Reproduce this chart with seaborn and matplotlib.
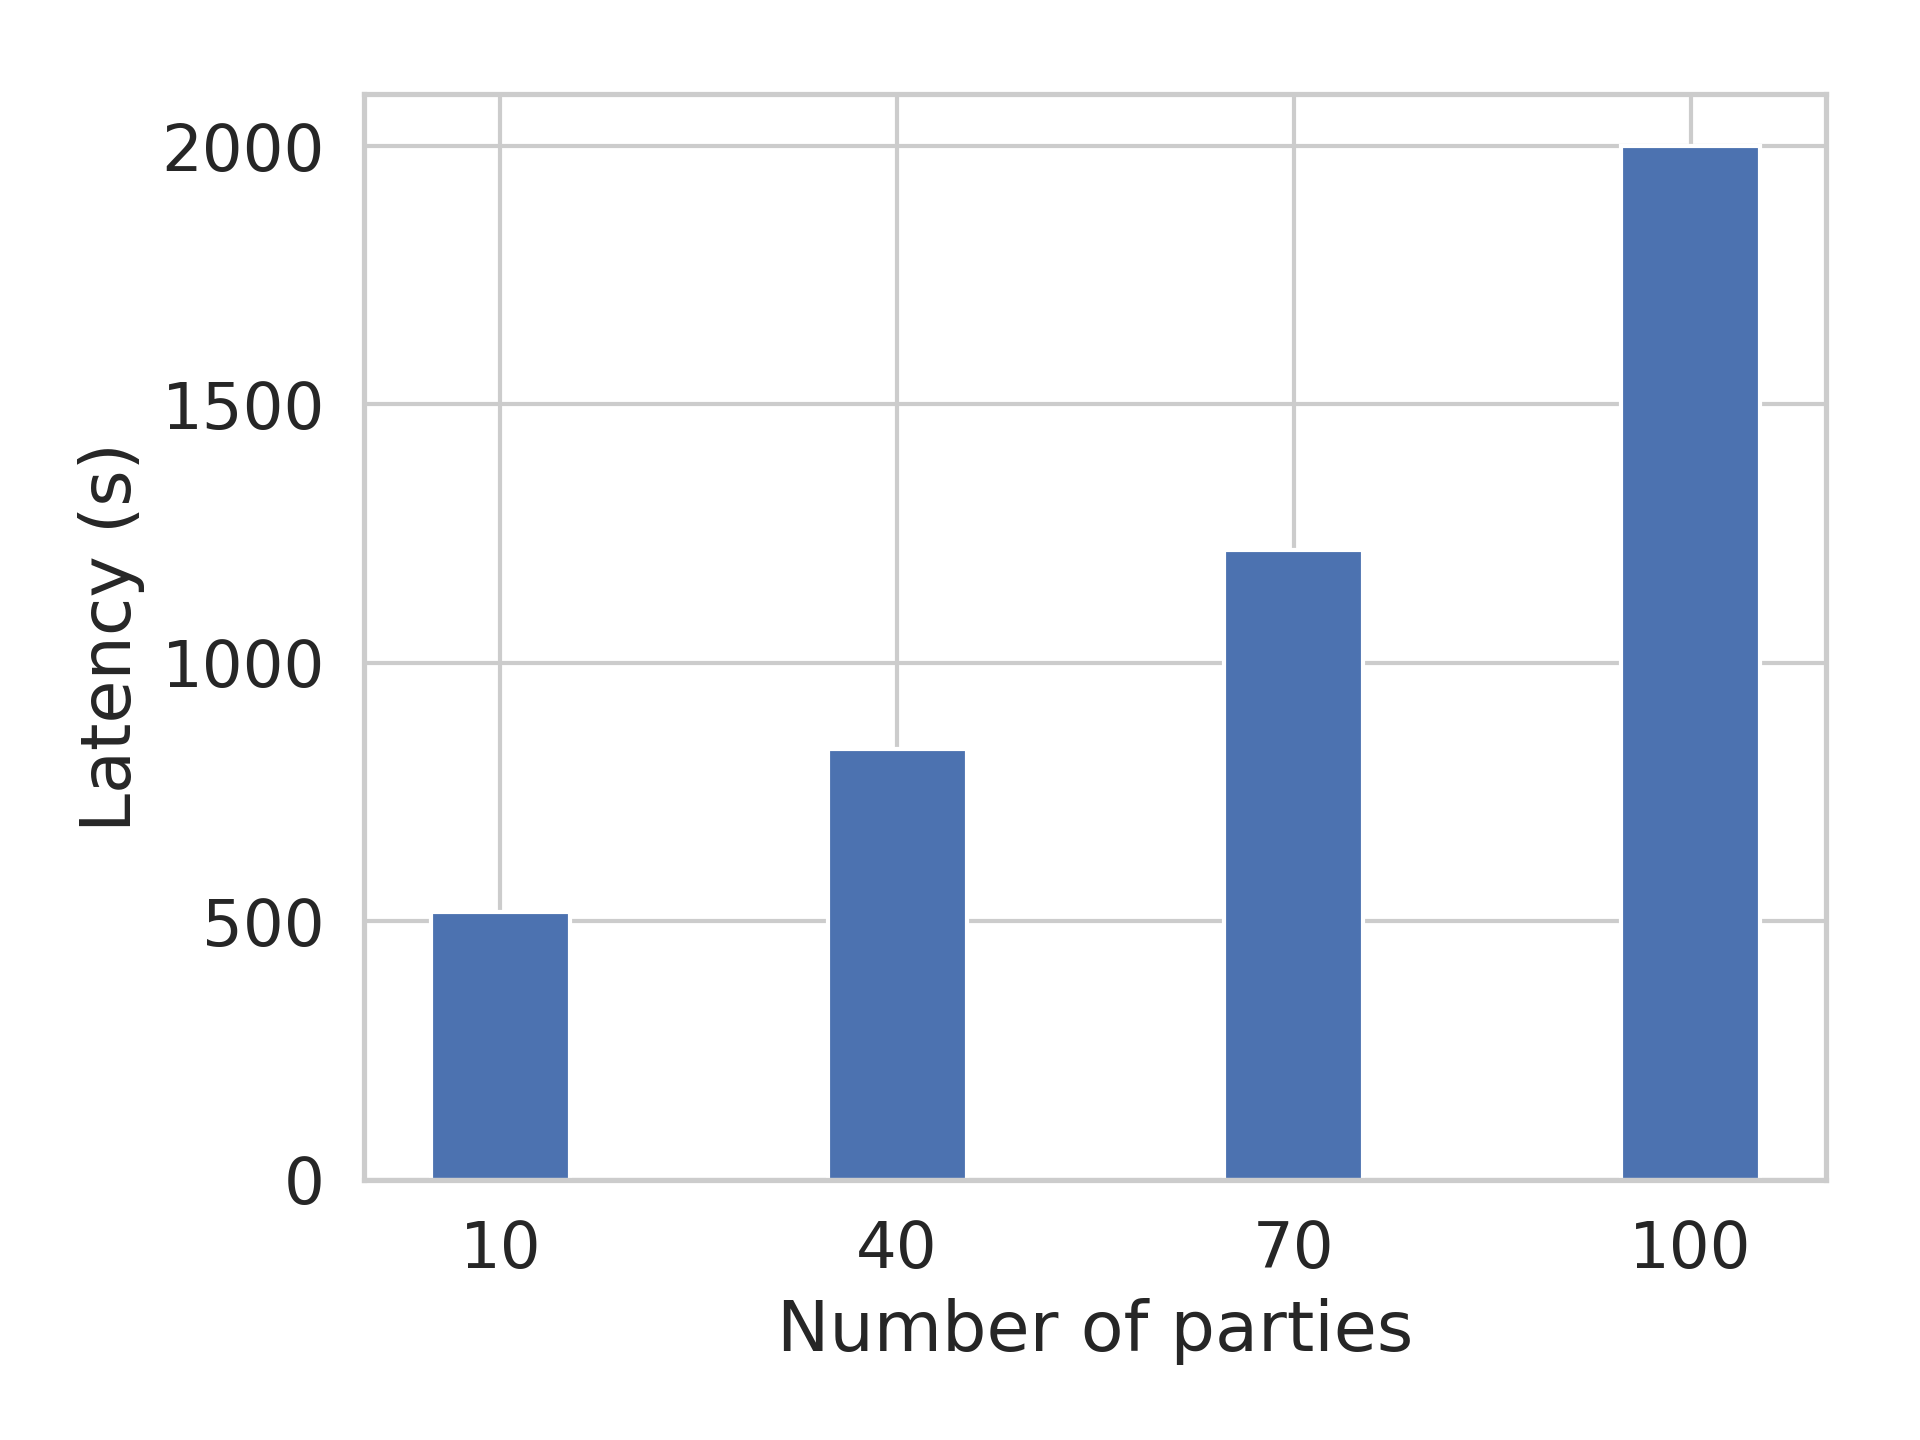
import matplotlib
matplotlib.use("Agg")
import matplotlib.pyplot as plt
import seaborn as sns
import pandas as pd

parties = ["10", "40", "70", "100"]
latency = [517, 834, 1219, 2000]

sns.set_theme(style="whitegrid", context="notebook", font_scale=1.4)

df = pd.DataFrame({"parties": parties, "latency": latency})

fig, ax = plt.subplots(figsize=(6.4, 4.8), dpi=300)
fig.subplots_adjust(left=0.1898, right=0.9513, top=0.9344, bottom=0.1809)

sns.barplot(data=df, x="parties", y="latency", color="#4C72B0", saturation=1,
            width=0.35, edgecolor="white", linewidth=1, ax=ax)

ax.xaxis.grid(True)
ax.yaxis.grid(True)
ax.set_xlim(-0.3425, 3.3425)
ax.set_ylim(0, 2100)
ax.set_yticks([0, 500, 1000, 1500, 2000])
ax.set_xlabel("Number of parties")
ax.set_ylabel("Latency (s)")

fig.savefig("out.png", dpi=300)
